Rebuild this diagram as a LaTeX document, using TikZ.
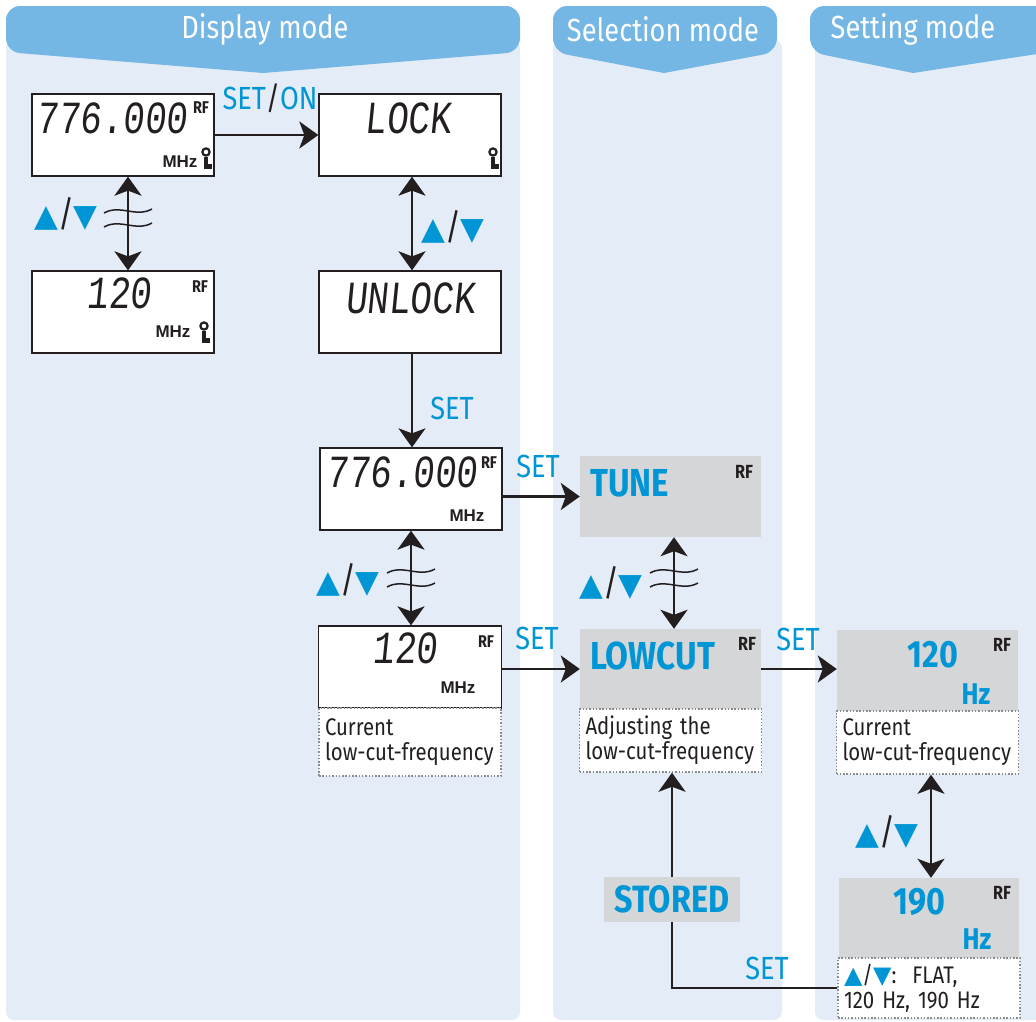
\documentclass[tikz,border=0pt]{standalone}
\usepackage{fontspec}
\setmainfont[FakeStretch=0.85]{Fira Sans}
\newfontfamily\lcdfont[FakeStretch=0.78,FakeSlant=0.1]{Liberation Mono}
\newfontfamily\arialfont{Liberation Sans}
\newfontfamily\symfont{DejaVu Sans}
\usepackage{xcolor}
\usepackage{tikz}
\usetikzlibrary{arrows.meta,positioning,calc}
\definecolor{hdrblue}{HTML}{74B6E4}
\definecolor{bgblue}{HTML}{E4ECF7}
\definecolor{accblue}{HTML}{0096D6}
\definecolor{boxgrey}{HTML}{D5D6D8}
\definecolor{ink}{HTML}{231F20}
\newcommand{\updn}{{\symfont\color{accblue}▲}{\fontsize{36}{36}\selectfont/}{\symfont\color{accblue}▼}}
\tikzset{
	keyicon/.pic={
		\draw[line width=2.2pt] (0,0) circle (3.6pt);
		\fill (-2.2,4.5) rectangle (2.2,17);
		\fill (2.2,12) rectangle (5.5,17);
	},
	waves/.pic={
		\foreach \dy in {-7,7}
			\draw[line width=1.5pt] (-24,\dy+2) .. controls (-8,\dy-7) and (8,\dy+7) .. (24,\dy-2);
	}
}

\begin{document}
\begin{tikzpicture}[x=1pt,y=-1pt,ink,
	lcdbox/.style={draw=ink,line width=1.3pt,fill=white,minimum width=182pt,minimum height=82pt,inner sep=0pt},
	greybox/.style={fill=boxgrey,minimum width=181pt,minimum height=81pt,inner sep=0pt},
	capbox/.style={draw=black!45,line width=1.5pt,dash pattern=on 1.5pt off 1.8pt,fill=white,inner xsep=6pt,text width=170pt,align=left,text=ink,font=\fontsize{24}{25}\selectfont},
	arr/.style={line width=2.6pt,-{Stealth[length=19pt,width=27pt,inset=5pt]}},
	darr/.style={line width=2.6pt,{Stealth[length=19pt,width=27pt,inset=5pt]}-{Stealth[length=19pt,width=27pt,inset=5pt]}},
	hdrtxt/.style={text=white,font=\fontsize{32}{32}\selectfont,inner sep=0pt},
	lcdtxt/.style={text=ink,font=\lcdfont\fontsize{46}{46}\selectfont,inner sep=0pt},
	rflbl/.style={text=ink,font=\bfseries\fontsize{17}{17}\selectfont,inner sep=0pt},
	mhzlbl/.style={text=ink,font=\arialfont\bfseries\fontsize{17}{17}\selectfont,inner sep=0pt},
	setlbl/.style={text=accblue,font=\fontsize{32}{32}\selectfont,inner sep=0pt},
	udlbl/.style={font=\fontsize{31}{31}\selectfont,inner sep=0pt},
	bigtxt/.style={text=accblue,font=\bfseries\fontsize{39}{39}\selectfont,inner sep=0pt},
	numtxt/.style={text=accblue,font=\bfseries\fontsize{38}{38}\selectfont,inner sep=0pt},
	hztxt/.style={text=accblue,font=\bfseries\fontsize{30}{30}\selectfont,inner sep=0pt}]
	\useasboundingbox (0,0) rectangle (1036,1021);
	% columns
	\fill[bgblue,rounded corners=8pt] (6,40) rectangle (520,1020);
	\fill[bgblue,rounded corners=8pt] (553,40) rectangle (782,1020);
	\fill[bgblue,rounded corners=8pt] (815,40) rectangle (1050,1020);
	\fill[hdrblue] (263,73) [rounded corners=14pt] -- (6,52) -- (6,6) -- (520,6) -- (520,52) [sharp corners] -- cycle;
	\fill[hdrblue] (664,73) [rounded corners=14pt] -- (553,52) -- (553,6) -- (777,6) -- (777,52) [sharp corners] -- cycle;
	\fill[hdrblue] (913,73) [rounded corners=14pt] -- (810,52) -- (810,6) -- (1050,6) -- (1050,52) [sharp corners] -- cycle;
	\node[hdrtxt] (hdisp) at (265,29) {Display mode};
	\node[hdrtxt] (hsel) at (663,29) {Selection mode};
	\node[hdrtxt] (hset) at (913,29) {Setting mode};

	% display mode
	\node[lcdbox] (lcdA) at (123,135) {};
	\node[lcdbox] (lock) at (410,135) {};
	\node[lcdbox] (lcd120) at (123,312) {};
	\node[lcdbox] (unlock) at (410,312) {};
	\node[lcdbox] (lcdB) at (411,489) {};
	\node[lcdbox,minimum width=183pt] (lcd120b) at (410,667) {};
	\node[capbox,minimum height=68pt] (capB) at (410,742) {Current\\low-cut-frequency};

	\node[lcdtxt] (numA) at (112,118) {776.000};
	\node[rflbl] (rfA) at (201,108) {RF};
	\node[mhzlbl] (mhzA) at (180,162) {MHz};
	\pic at (206,152) {keyicon};
	\node[lcdtxt] (txtlock) at (408,118) {LOCK};
	\pic at (493,152) {keyicon};
	\node[lcdtxt] (num120) at (119,293) {120};
	\node[rflbl] (rf120) at (200,287) {RF};
	\node[mhzlbl] (mhz120) at (173,332) {MHz};
	\pic at (204,326) {keyicon};
	\node[lcdtxt] (txtunlock) at (410,298) {UNLOCK};
	\node[lcdtxt] (numB) at (402,472) {776.000};
	\node[rflbl] (rfB) at (489,463) {RF};
	\node[mhzlbl] (mhzB) at (467,516) {MHz};
	\node[lcdtxt] (num120b) at (405,648) {120};
	\node[rflbl] (rf120b) at (486,642) {RF};
	\node[mhzlbl] (mhz120b) at (458,688) {MHz};

	% selection mode
	\node[greybox] (tune) at (670.5,496.5) {};
	\node[greybox,minimum height=80pt] (lowcut) at (670.5,669) {};
	\node[capbox,minimum height=63pt] (capL) at (670.5,740.5) {Adjusting the\\low-cut-frequency};
	\node[greybox,minimum width=136pt,minimum height=45pt] (stored) at (672,899.5) {};
	\node[bigtxt,anchor=west] (txttune) at (590,483) {TUNE};
	\node[rflbl,font=\bfseries\fontsize{19}{19}\selectfont] (rftune) at (744,472) {RF};
	\node[bigtxt,anchor=west] (txtlowcut) at (590,656) {LOWCUT};
	\node[rflbl,font=\bfseries\fontsize{19}{19}\selectfont] (rflowcut) at (747,644) {RF};
	\node[bigtxt,font=\bfseries\fontsize{38}{38}\selectfont] (txtstored) at (672,899) {STORED};

	% setting mode
	\node[greybox] (hz120) at (927.5,670.5) {};
	\node[capbox,minimum height=63pt] (capH) at (927.5,742.5) {Current\\low-cut-frequency};
	\node[greybox,minimum width=180pt,minimum height=80pt] (hz190) at (929,918) {};
	\node[capbox,minimum height=60pt] (capF) at (929,988) {{\symfont\fontsize{24}{24}\selectfont\color{accblue}▲}/{\symfont\fontsize{24}{24}\selectfont\color{accblue}▼}:\ \ FLAT,\\120 Hz, 190 Hz};
	\node[numtxt] (txt120) at (933,655) {120};
	\node[hztxt] (unit120) at (976,694) {Hz};
	\node[rflbl,font=\bfseries\fontsize{19}{19}\selectfont] (rfhz120) at (1002,645) {RF};
	\node[numtxt] (txt190) at (919,902) {190};
	\node[hztxt] (unit190) at (977,939) {Hz};
	\node[rflbl,font=\bfseries\fontsize{19}{19}\selectfont] (rfhz190) at (1002,893) {RF};

	% connectors
	\draw[arr] (lcdA) -- (lock);
	\draw[darr] ([xshift=5pt]lcdA.south) -- ([xshift=5pt]lcd120.north);
	\draw[darr] ([xshift=2pt]lock.south) -- ([xshift=2pt]unlock.north);
	\draw[arr] ([xshift=2pt]unlock.south) -- ([xshift=1pt]lcdB.north);
	\draw[darr] (lcdB.south) -- (lcdB.south |- lcd120b.north);
	\draw[arr] (lcdB.east |- tune) -- (tune.west);
	\draw[darr] ([xshift=3.5pt]tune.south) -- ([xshift=3.5pt]lowcut.north);
	\draw[arr] (lcd120b.east |- lowcut) -- (lowcut.west);
	\draw[arr] (lowcut.east) -- (lowcut.east -| hz120.west);
	\draw[darr] ([xshift=3.5pt]capH.south) -- ([xshift=3.5pt]capH.south |- hz190.north);
	\draw[line width=2.6pt] (capF.west) -| (stored.south);
	\draw[arr] (stored.north) -- (stored.north |- capL.south);
	\pic at (128,218) {waves};
	\pic at (411,578) {waves};
	\pic at (674,578) {waves};

	% labels
	\node[setlbl] (seton) at (270,98) {SET\textcolor{ink}{/}ON};
	\node[setlbl] (setU) at (452,408) {SET};
	\node[setlbl] (setT) at (538,466) {SET};
	\node[setlbl] (setL) at (537,638) {SET};
	\node[setlbl] (setH) at (798,639) {SET};
	\node[setlbl] (setS) at (767,968) {SET};
	\node[udlbl] (ud1) at (66,214) {\updn};
	\node[udlbl] (ud2) at (453,227) {\updn};
	\node[udlbl] (ud3) at (348,580) {\updn};
	\node[udlbl] (ud4) at (611,583) {\updn};
	\node[udlbl] (ud5) at (887,832) {\updn};
\end{tikzpicture}
\end{document}
